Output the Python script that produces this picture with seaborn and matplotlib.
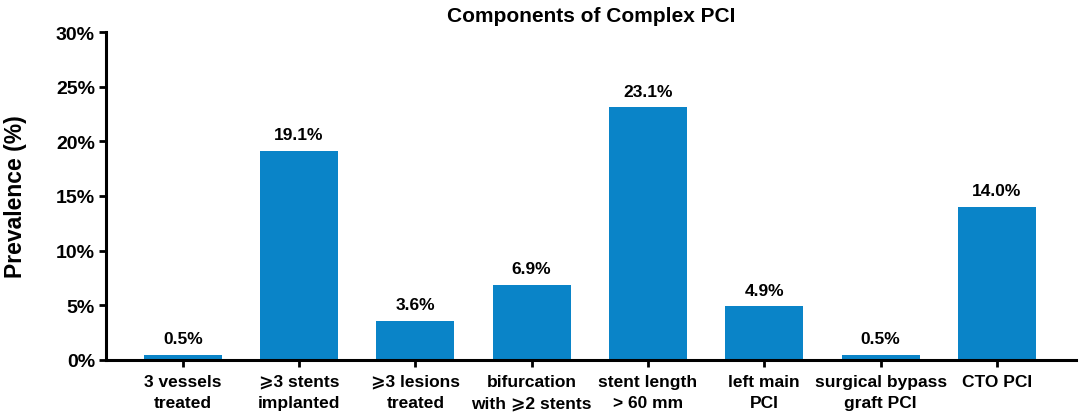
import pandas as pd
import seaborn as sns
import matplotlib.pyplot as plt
from matplotlib.ticker import FuncFormatter

# data
categories = ["3 vessels\ntreated", "\u2a7e3 stents\nimplanted", "\u2a7e3 lesions\ntreated",
              "bifurcation\nwith \u2a7e2 stents", "stent length\n> 60 mm", "left main\nPCI",
              "surgical bypass\ngraft PCI", "CTO PCI"]
prevalence = [0.5, 19.1, 3.6, 6.9, 23.1, 4.9, 0.5, 14.0]

df = pd.DataFrame({"component": categories, "prevalence": prevalence})

sns.set_style("ticks", {"axes.edgecolor": "black", "text.color": "black",
                        "axes.labelcolor": "black", "xtick.color": "black",
                        "ytick.color": "black"})
plt.rcParams['font.family'] = ['Liberation Sans', 'DejaVu Sans']
plt.rcParams['font.weight'] = 'bold'

fig = plt.figure(figsize=(10.84, 4.14), dpi=100)
ax = fig.add_axes([106/1084, 1 - 361/414, (1076-106)/1084, (361-33)/414])

sns.barplot(data=df, x="component", y="prevalence", color="#0A84C8", saturation=1,
            width=0.67, linewidth=0, ax=ax)

for i, v in enumerate(prevalence):
    ax.text(i, v + 0.8, f"{v:.1f}%", ha="center", va="bottom", fontsize=12.5, fontweight="bold")

ax.set_xlim(-0.66, 7.68)
ax.set_ylim(0, 30)
ax.set_yticks(range(0, 31, 5))
ax.yaxis.set_major_formatter(FuncFormatter(lambda v, p: f"{v:.0f}%"))
ax.set_xlabel("")
ax.set_ylabel("Prevalence (%)", fontsize=16.5, fontweight="bold")
ax.yaxis.set_label_coords(-79/970, 0.5)
ax.set_title("Components of Complex PCI", fontsize=15, fontweight="bold", pad=8)

for s in ["top", "right"]:
    ax.spines[s].set_visible(False)
for s in ["left", "bottom"]:
    ax.spines[s].set_linewidth(2.2)
ax.tick_params(axis="both", width=2, length=5, pad=3)
ax.tick_params(axis="x", labelsize=12.5, pad=5)
ax.tick_params(axis="y", labelsize=14)
for lab in ax.get_xticklabels():
    lab.set_fontweight("bold")
    lab.set_linespacing(1.55)
for lab in ax.get_yticklabels():
    lab.set_fontweight("bold")

fig.savefig("out.png", dpi=100)
